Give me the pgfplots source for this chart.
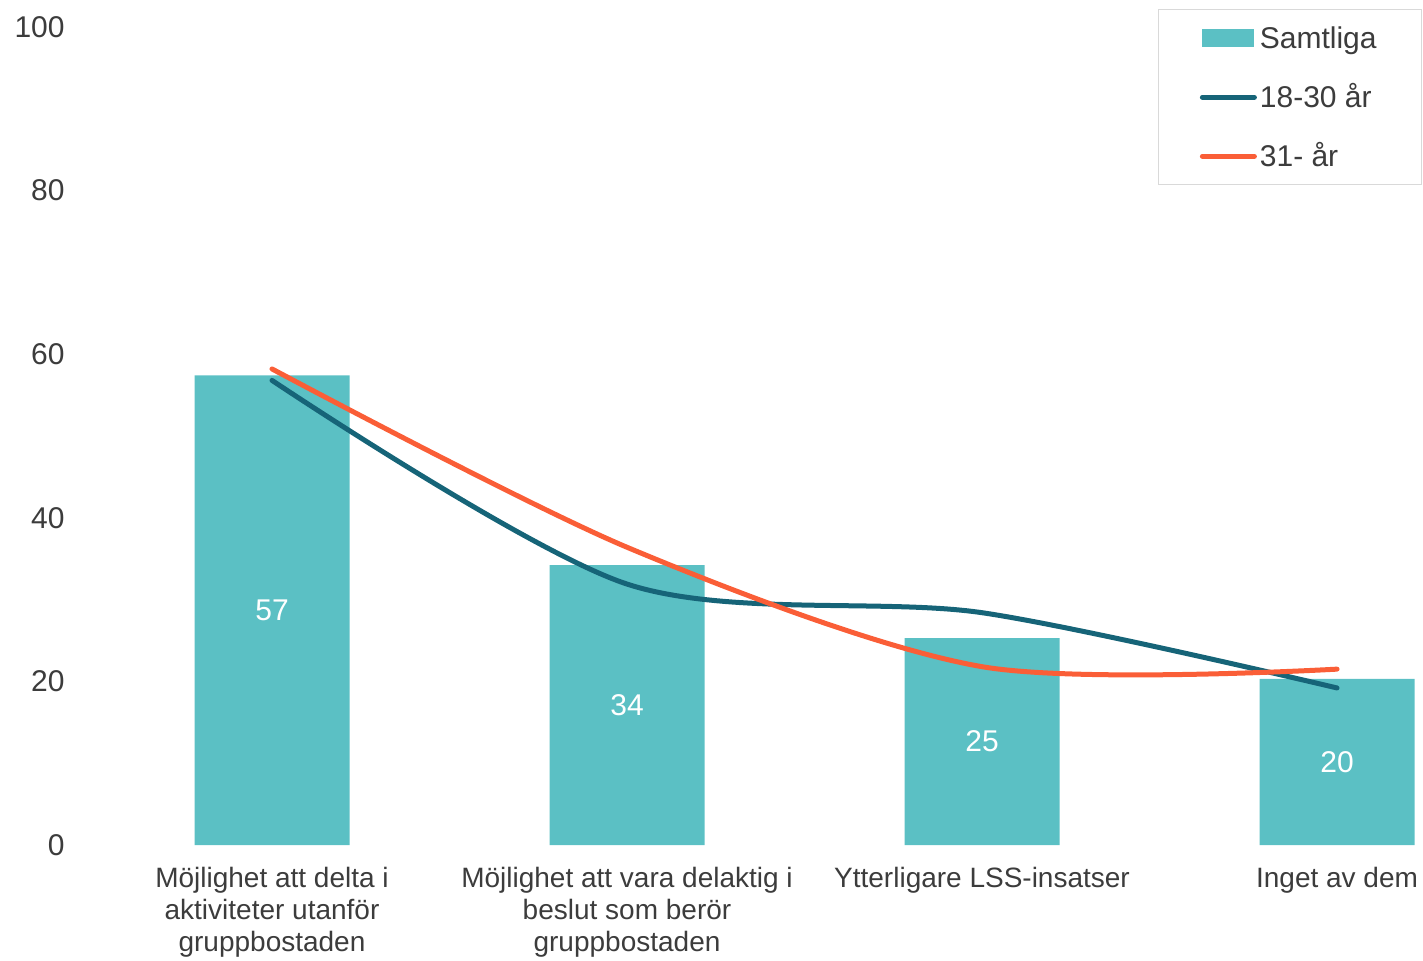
\documentclass[border=0pt]{standalone}
\usepackage{pgfplots}
\pgfplotsset{compat=1.18}
\usepackage{fontspec}
\setmainfont{Liberation Sans}
\definecolor{barc}{RGB}{91,192,196}
\definecolor{darkc}{RGB}{22,100,120}
\definecolor{orc}{RGB}{250,94,55}
\definecolor{txt}{RGB}{60,60,60}
\begin{document}
\begin{tikzpicture}
\useasboundingbox (-47.25pt,-57.5pt) rectangle (664.25pt,422.5pt);
\begin{axis}[
  at={(0,0)}, anchor=south west,
  scale only axis, width=663.75pt, height=409pt,
  xmin=-0.5, xmax=3.2394, ymin=0, ymax=100,
  axis line style={draw=none},
  major tick length=0pt,
  ytick={0,20,40,60,80,100},
  xtick={0,1,2,3},
  xticklabels={{\strut Möjlighet att delta i\\aktiviteter utanför\\gruppbostaden},
               {\strut Möjlighet att vara delaktig i\\beslut som berör\\gruppbostaden},
               {\strut Ytterligare LSS-insatser},
               {\strut Inget av dem}},
  /pgf/number format/assume math mode=true,
  yticklabel style={font=\fontsize{15}{18}\selectfont, text=txt, inner sep=0pt, xshift=-14.75pt, anchor=east},
  xticklabel style={font=\fontsize{14}{16}\selectfont, text=txt, align=center, inner sep=0pt, anchor=north, yshift=-9.8pt},
  legend style={at={(1,1.0215)}, anchor=north east, draw=black!15, fill=white,
    font=\fontsize{15}{18}\selectfont, text=txt, inner xsep=21pt, inner ysep=5pt, row sep=11pt,
    nodes={text height=12.5pt, text depth=2pt, inner ysep=2pt, inner xsep=1.5pt}},
  legend cell align=left,
]
\addplot[ybar, bar width=77.5pt, fill=barc, draw=none,
  legend image code/.code={\fill[barc] (0pt,-4.5pt) rectangle (26pt,4.5pt);}]
  coordinates {(0,57.4) (1,34.2) (2,25.3) (3,20.3)};
\addlegendentry{Samtliga}
\addplot[darkc, line width=2.5pt, line cap=round, smooth,
  legend image code/.code={\draw[darkc, line width=2.5pt, line cap=round] (0pt,0pt) -- (26pt,0pt);}]
  coordinates {(0,56.8) (1,31.9) (2,28.4) (3,19.2)};
\addlegendentry{18-30 år}
\addplot[orc, line width=2.5pt, line cap=round, smooth,
  legend image code/.code={\draw[orc, line width=2.5pt, line cap=round] (0pt,0pt) -- (26pt,0pt);}]
  coordinates {(0,58.2) (1,36.4) (2,21.8) (3,21.5)};
\addlegendentry{31- år}
\addplot[forget plot, draw=none, mark=none, nodes near coords, point meta=explicit symbolic,
  every node near coord/.append style={anchor=center, text=white, font=\fontsize{15}{18}\selectfont, inner sep=0pt}]
  coordinates {(0,28.7)[57] (1,17.1)[34] (2,12.65)[25] (3,10.15)[20]};
\end{axis}
\end{tikzpicture}
\end{document}
